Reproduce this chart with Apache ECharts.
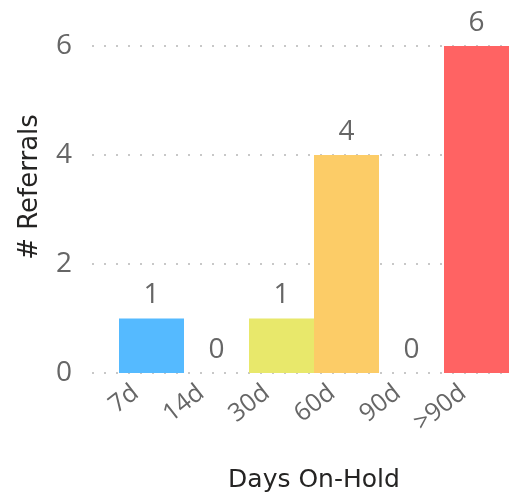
<!DOCTYPE html>
<html><head><meta charset="utf-8">
<script src="https://cdn.jsdelivr.net/npm/echarts@6/dist/echarts.min.js"></script>
<style>html,body{margin:0;padding:0;background:#fff}#c{width:509px;height:498px}</style>
</head><body><div id="c"></div>
<script>
const categories = ['7d', '14d', '30d', '60d', '90d', '>90d'];
const referrals = [1, 0, 1, 4, 0, 6];
const barColors = ['#55BAFF', '#FFFFFF', '#E8E86B', '#FCCC67', '#FFFFFF', '#FF6363'];
const yTicks = [0, 2, 4, 6];
const xTitle = 'Days On-Hold';
const yTitle = '# Referrals';

const chart = echarts.init(document.getElementById('c'), null, {renderer: 'canvas'});
const yMin = yTicks[0], yMax = yTicks[yTicks.length - 1], yStep = yTicks[1] - yTicks[0];
const font = '"Open Sans", "Noto Sans", sans-serif';
chart.setOption({
  animation: false,
  grid: [
    {left: 92, right: 0, top: 46, bottom: 125},
    {left: 119, width: 393, top: 46, bottom: 125},
    {left: 103, width: 393, top: 46, bottom: 125}
  ],
  xAxis: [
    {gridIndex: 0, type: 'category', data: categories, show: false},
    {gridIndex: 1, type: 'category', data: categories, boundaryGap: true,
     axisLine: {show: false}, axisTick: {show: false}, axisLabel: {show: false},
     name: xTitle, nameLocation: 'middle', nameGap: 95,
     nameTextStyle: {color: '#252423', fontSize: 25, fontFamily: '"DejaVu Sans", sans-serif'}},
    {gridIndex: 2, type: 'category', data: categories, boundaryGap: true,
     axisLine: {show: false}, axisTick: {show: false},
     axisLabel: {rotate: 38, color: '#666', fontSize: 25, fontFamily: font, margin: 17, interval: 0}}
  ],
  yAxis: [
    {gridIndex: 0, type: 'value', min: yMin, max: yMax, interval: yStep,
     axisLine: {show: false}, axisTick: {show: false},
     axisLabel: {color: '#666', fontSize: 28, fontFamily: font, margin: 20},
     splitLine: {show: true, lineStyle: {color: '#c8c8c8', width: 2, type: [2, 10]}}},
    {gridIndex: 1, type: 'value', min: yMin, max: yMax, interval: yStep, show: false,
     splitLine: {show: false}},
    {gridIndex: 2, type: 'value', min: yMin, max: yMax, interval: yStep, show: false,
     splitLine: {show: false}}
  ],
  graphic: [{
    type: 'text', rotation: Math.PI / 2, x: 30, y: 187,
    style: {text: yTitle, fill: '#252423', font: '26px "DejaVu Sans", sans-serif',
            align: 'center', verticalAlign: 'middle'}
  }],
  series: [{
    type: 'bar', xAxisIndex: 1, yAxisIndex: 1,
    barCategoryGap: 0,
    data: referrals.map((v, i) => ({value: v, itemStyle: {color: barColors[i]}})),
    label: {show: true, position: 'top', distance: 9, color: '#666', fontSize: 28, fontFamily: font}
  }]
});
</script></body></html>
